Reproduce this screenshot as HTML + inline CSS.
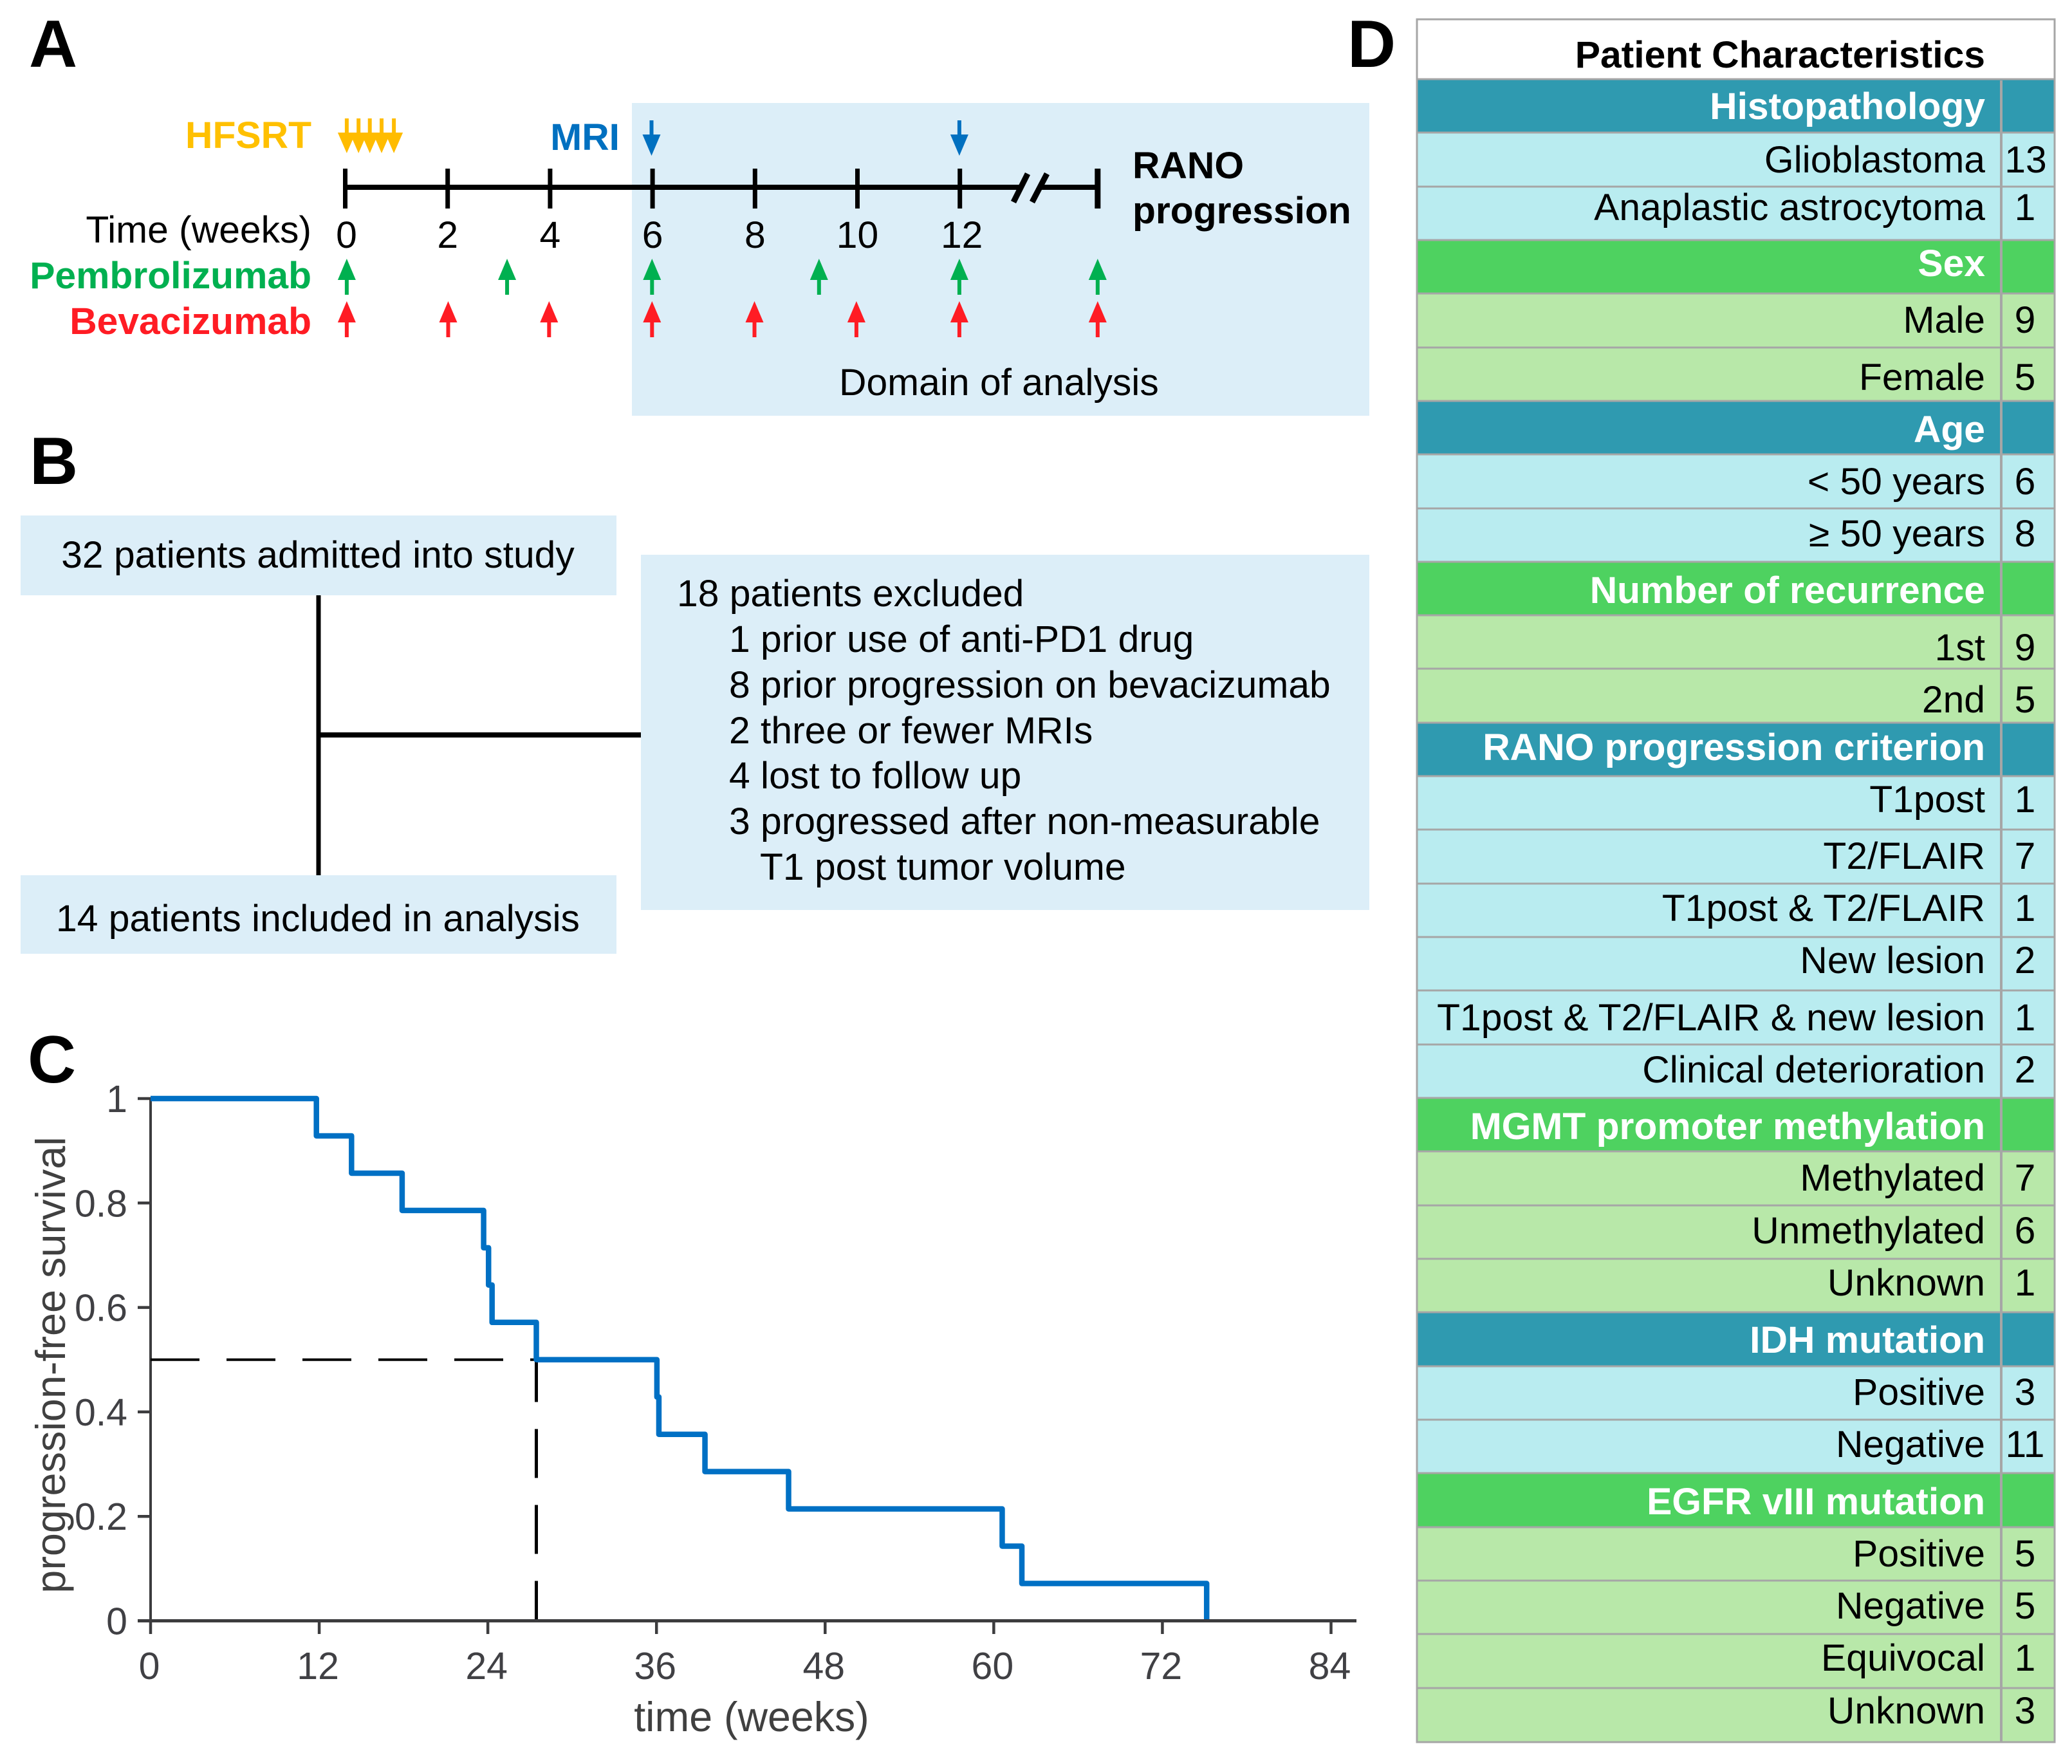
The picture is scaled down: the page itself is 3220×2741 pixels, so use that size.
<!DOCTYPE html>
<html lang="en">
<head>
<meta charset="utf-8">
<title>Patient timeline, flow, survival and characteristics</title>
<style>
html,body{margin:0;padding:0;background:#fff;}
body{width:3220px;height:2741px;overflow:hidden;}
svg{display:block;}
text{font-family:"Liberation Sans",Arial,sans-serif;font-size:58.8px;fill:#000;}
.b{font-weight:700;}
.pl{font-weight:700;font-size:104px;}
.e{text-anchor:end;}
.m{text-anchor:middle;}
.rl{text-anchor:end;}
.h{font-weight:700;fill:#fff;text-anchor:end;}
.v{text-anchor:middle;}
.hr{fill:#2f9ab0;stroke:#a6a6a6;stroke-width:3;}
.lc{fill:#b9ecf0;stroke:#a6a6a6;stroke-width:3;}
.gr{fill:#4ed260;stroke:#a6a6a6;stroke-width:3;}
.lg{fill:#b8e8a9;stroke:#a6a6a6;stroke-width:3;}
</style>
</head>
<body>
<svg id="fig" xmlns="http://www.w3.org/2000/svg" width="3220" height="2741" viewBox="0 0 3220 2741">
  <rect x="0" y="0" width="3220" height="2741" fill="#fff"/>

  <!-- Panel A -->
  <g id="panelA">
    <rect x="982" y="160" width="1146" height="486" fill="#dceef8"/>
    <text class="pl" x="45" y="104">A</text>
    <text class="b e" x="484" y="230" style="fill:#ffc000">HFSRT</text>
    <text class="b e" x="963" y="233" style="fill:#0070c0">MRI</text>
    <text class="e" x="484" y="377">Time (weeks)</text>
    <text class="b e" x="484" y="448" style="fill:#00b050">Pembrolizumab</text>
    <text class="b e" x="484" y="519" style="fill:#ff1c24">Bevacizumab</text>
    <text class="b" x="1760" y="277">RANO</text>
    <text class="b" x="1760" y="347">progression</text>
    <text x="1304" y="614">Domain of analysis</text>
  </g>

  <!-- Panel B -->
  <g>
    <text class="pl" x="46" y="752">B</text>
    <line x1="495" y1="920" x2="495" y2="1365" stroke="#000" stroke-width="7"/>
    <line x1="495" y1="1142" x2="1000" y2="1142" stroke="#000" stroke-width="8"/>
    <rect x="32" y="801" width="926" height="124" fill="#dceef8"/>
    <text class="m" x="494" y="882">32 patients admitted into study</text>
    <rect x="32" y="1360" width="926" height="122" fill="#dceef8"/>
    <text class="m" x="494" y="1447">14 patients included in analysis</text>
    <rect x="996" y="862" width="1132" height="552" fill="#dceef8"/>
    <text x="1052" y="942">18 patients excluded</text>
    <text x="1133" y="1013">1 prior use of anti-PD1 drug</text>
    <text x="1133" y="1084">8 prior progression on bevacizumab</text>
    <text x="1133" y="1155">2 three or fewer MRIs</text>
    <text x="1133" y="1225">4 lost to follow up</text>
    <text x="1133" y="1296">3 progressed after non-measurable</text>
    <text x="1181" y="1367">T1 post tumor volume</text>
  </g>

  <!-- Panel C -->
  <g id="panelC">
    <text class="pl" x="43" y="1682">C</text>
    <text class="m" x="1168" y="2690" style="font-size:64.5px;fill:#404040">time (weeks)</text>
    <text class="m" transform="translate(101 2121) rotate(-90)" style="font-size:64.8px;fill:#404040">progression-free survival</text>
  </g>

  <!-- Panel D -->
  <g>
    <text class="pl" x="2094" y="104">D</text>
    <rect x="2202" y="30" width="991" height="93" fill="#fff" stroke="#a6a6a6" stroke-width="3"/>
    <text class="b e" x="3085" y="105">Patient Characteristics</text>

    <rect class="hr" x="2202" y="123" width="991" height="83"/>
    <text class="h" x="3085" y="185">Histopathology</text>
    <rect class="lc" x="2202" y="206" width="991" height="84"/>
    <text class="rl" x="3085" y="268">Glioblastoma</text>
    <text class="v" x="3148" y="268">13</text>
    <rect class="lc" x="2202" y="290" width="991" height="83"/>
    <text class="rl" x="3085" y="342">Anaplastic astrocytoma</text>
    <text class="v" x="3147" y="342">1</text>

    <rect class="gr" x="2202" y="373" width="991" height="83"/>
    <text class="h" x="3085" y="429">Sex</text>
    <rect class="lg" x="2202" y="456" width="991" height="84"/>
    <text class="rl" x="3085" y="517">Male</text>
    <text class="v" x="3147" y="517">9</text>
    <rect class="lg" x="2202" y="540" width="991" height="83"/>
    <text class="rl" x="3085" y="606">Female</text>
    <text class="v" x="3147" y="606">5</text>

    <rect class="hr" x="2202" y="623" width="991" height="83"/>
    <text class="h" x="3085" y="687">Age</text>
    <rect class="lc" x="2202" y="706" width="991" height="84"/>
    <text class="rl" x="3085" y="768">&lt; 50 years</text>
    <text class="v" x="3147" y="768">6</text>
    <rect class="lc" x="2202" y="790" width="991" height="83"/>
    <text class="rl" x="3085" y="849">≥ 50 years</text>
    <text class="v" x="3147" y="849">8</text>

    <rect class="gr" x="2202" y="873" width="991" height="83"/>
    <text class="h" x="3085" y="937">Number of recurrence</text>
    <rect class="lg" x="2202" y="956" width="991" height="83"/>
    <text class="rl" x="3085" y="1026">1st</text>
    <text class="v" x="3147" y="1026">9</text>
    <rect class="lg" x="2202" y="1039" width="991" height="84"/>
    <text class="rl" x="3085" y="1107">2nd</text>
    <text class="v" x="3147" y="1107">5</text>

    <rect class="hr" x="2202" y="1123" width="991" height="83"/>
    <text class="h" x="3085" y="1181">RANO progression criterion</text>
    <rect class="lc" x="2202" y="1206" width="991" height="83"/>
    <text class="rl" x="3085" y="1262">T1post</text>
    <text class="v" x="3147" y="1262">1</text>
    <rect class="lc" x="2202" y="1289" width="991" height="84"/>
    <text class="rl" x="3085" y="1350">T2/FLAIR</text>
    <text class="v" x="3147" y="1350">7</text>
    <rect class="lc" x="2202" y="1373" width="991" height="83"/>
    <text class="rl" x="3085" y="1431">T1post &amp; T2/FLAIR</text>
    <text class="v" x="3147" y="1431">1</text>
    <rect class="lc" x="2202" y="1456" width="991" height="83"/>
    <text class="rl" x="3085" y="1512">New lesion</text>
    <text class="v" x="3147" y="1512">2</text>
    <rect class="lc" x="2202" y="1539" width="991" height="84"/>
    <text class="rl" x="3085" y="1601">T1post &amp; T2/FLAIR &amp; new lesion</text>
    <text class="v" x="3147" y="1601">1</text>
    <rect class="lc" x="2202" y="1623" width="991" height="83"/>
    <text class="rl" x="3085" y="1682">Clinical deterioration</text>
    <text class="v" x="3147" y="1682">2</text>

    <rect class="gr" x="2202" y="1706" width="991" height="83"/>
    <text class="h" x="3085" y="1770">MGMT promoter methylation</text>
    <rect class="lg" x="2202" y="1789" width="991" height="84"/>
    <text class="rl" x="3085" y="1850">Methylated</text>
    <text class="v" x="3147" y="1850">7</text>
    <rect class="lg" x="2202" y="1873" width="991" height="83"/>
    <text class="rl" x="3085" y="1932">Unmethylated</text>
    <text class="v" x="3147" y="1932">6</text>
    <rect class="lg" x="2202" y="1956" width="991" height="83"/>
    <text class="rl" x="3085" y="2013">Unknown</text>
    <text class="v" x="3147" y="2013">1</text>

    <rect class="hr" x="2202" y="2039" width="991" height="84"/>
    <text class="h" x="3085" y="2102">IDH mutation</text>
    <rect class="lc" x="2202" y="2123" width="991" height="83"/>
    <text class="rl" x="3085" y="2183">Positive</text>
    <text class="v" x="3147" y="2183">3</text>
    <rect class="lc" x="2202" y="2206" width="991" height="83"/>
    <text class="rl" x="3085" y="2264">Negative</text>
    <text class="v" x="3147" y="2264">11</text>

    <rect class="gr" x="2202" y="2289" width="991" height="84"/>
    <text class="h" x="3085" y="2353">EGFR vIII mutation</text>
    <rect class="lg" x="2202" y="2373" width="991" height="83"/>
    <text class="rl" x="3085" y="2434">Positive</text>
    <text class="v" x="3147" y="2434">5</text>
    <rect class="lg" x="2202" y="2456" width="991" height="83"/>
    <text class="rl" x="3085" y="2515">Negative</text>
    <text class="v" x="3147" y="2515">5</text>
    <rect class="lg" x="2202" y="2539" width="991" height="84"/>
    <text class="rl" x="3085" y="2596">Equivocal</text>
    <text class="v" x="3147" y="2596">1</text>
    <rect class="lg" x="2202" y="2623" width="991" height="84"/>
    <text class="rl" x="3085" y="2678">Unknown</text>
    <text class="v" x="3147" y="2678">3</text>

    <line x1="3110" y1="125" x2="3110" y2="2707" stroke="#a6a6a6" stroke-width="4"/>
  </g>
</svg>

<script>
/* Kaplan-Meier data: week of each event and survival after it */
var kmEventWeeks = [11.8, 14.3, 17.9, 23.7, 24.05, 24.3, 27.45, 36.03, 36.17, 39.45, 45.4, 60.6, 62, 75.15];
var kmSurvivalAfter = [0.9286, 0.8571, 0.7857, 0.7143, 0.6429, 0.5714, 0.5, 0.4286, 0.3571, 0.2857, 0.2143, 0.1429, 0.0714, 0];
var medianWeek = [27.45];
var medianSurvival = [0.5];
var xTickValues = [0, 12, 24, 36, 48, 60, 72, 84];
var yTickValues = [0, 0.2, 0.4, 0.6, 0.8, 1];

/* Treatment timeline data, in weeks (the last position is the progression tick) */
var timelineTickWeeks = [0, 2, 4, 6, 8, 10, 12];
var timelineTickLabels = ["0", "2", "4", "6", "8", "10", "12"];
var progressionWeek = [14.69];
var hfsrtWeeks = [0.03, 0.26, 0.48, 0.71, 0.95];
var mriWeeks = [5.98, 11.99];
var pembrolizumabWeeks = [0.03, 3.16, 5.99, 9.25, 11.99, 14.69];
var bevacizumabWeeks = [0.03, 2.01, 3.98, 5.99, 7.99, 9.98, 11.99, 14.69];

var NS = "http://www.w3.org/2000/svg";
var panelA = document.getElementById("panelA");
var panelC = document.getElementById("panelC");

function mk(parent, tag, attrs) {
  var el = document.createElementNS(NS, tag);
  for (var k in attrs) { el.setAttribute(k, attrs[k]); }
  parent.appendChild(el);
  return el;
}

/* Axis functions */
function chartX(week) { return 234 + (week / 84) * 1834.5; }
function chartY(s) { return 2518.5 - s * 811.5; }
function timeX(week) { return 536.5 + week * 79.6; }

/* ---------- Panel A ---------- */
function arrow(parent, week, tipY, baseY, tailY, color, name) {
  var x = timeX(week);
  var g = mk(parent, "g", {});
  
  
  mk(g, "line", { x1: x, y1: tailY, x2: x, y2: baseY, stroke: color, "stroke-width": 6 });
  mk(g, "polygon", { points: (x - 14) + "," + baseY + " " + (x + 14) + "," + baseY + " " + x + "," + tipY, fill: color });
}

var timelineAxis = mk(panelA, "path", {
  d: "M" + (timeX(0) - 3) + " 291H1585M1615 291H" + timeX(progressionWeek[0]),
  stroke: "#000", "stroke-width": 8, fill: "none"
});



timelineTickWeeks.forEach(function (w, i) {
  var tick = mk(panelA, "line", { x1: timeX(w), y1: 262, x2: timeX(w), y2: 324, stroke: "#000", "stroke-width": 7 });
  
  
  var label = mk(panelA, "text", { x: timeX(w) + (timelineTickLabels[i] === "12" ? 3 : (timelineTickLabels[i] === "0" ? 2 : 0)), y: 385, "text-anchor": "middle" });
  
  
  label.textContent = timelineTickLabels[i];
});

var endTick = mk(panelA, "line", { x1: timeX(progressionWeek[0]), y1: 262, x2: timeX(progressionWeek[0]), y2: 324, stroke: "#000", "stroke-width": 9 });



var slashOne = mk(panelA, "line", { x1: 1575, y1: 314, x2: 1597, y2: 270, stroke: "#000", "stroke-width": 9 });


var slashTwo = mk(panelA, "line", { x1: 1604, y1: 314, x2: 1627, y2: 270, stroke: "#000", "stroke-width": 9 });



hfsrtWeeks.forEach(function (w) { arrow(panelA, w, 238, 206, 184, "#ffbc00", "hfsrt-arrow"); });
mriWeeks.forEach(function (w) { arrow(panelA, w, 242, 209, 187, "#0070c0", "mri-arrow"); });
pembrolizumabWeeks.forEach(function (w) { arrow(panelA, w, 402, 435, 458, "#00b050", "pembrolizumab-arrow"); });
bevacizumabWeeks.forEach(function (w) { arrow(panelA, w, 468, 501, 524, "#ff1c24", "bevacizumab-arrow"); });

/* ---------- Panel C ---------- */
var axisColor = "#3c3c3e";

yTickValues.forEach(function (v) {
  var t = mk(panelC, "line", { x1: 214, y1: chartY(v), x2: 234, y2: chartY(v), stroke: axisColor, "stroke-width": 4.5 });
  
  
  var l = mk(panelC, "text", { x: 198, y: chartY(v) + 21, "text-anchor": "end", style: "font-size:59px;fill:#404044" });
  
  
  l.textContent = String(v);
});

xTickValues.forEach(function (v) {
  var t = mk(panelC, "line", { x1: chartX(v), y1: 2518, x2: chartX(v), y2: 2539, stroke: axisColor, "stroke-width": 4.5 });
  
  
  var l = mk(panelC, "text", { x: chartX(v) - 2, y: 2609, "text-anchor": "middle", style: "font-size:59px;fill:#404044" });
  
  
  l.textContent = String(v);
});

var yAxisLine = mk(panelC, "line", { x1: 234, y1: chartY(1), x2: 234, y2: chartY(0), stroke: axisColor, "stroke-width": 4 });



var medianH = mk(panelC, "line", {
  x1: chartX(0), y1: chartY(medianSurvival[0]), x2: chartX(medianWeek[0]), y2: chartY(medianSurvival[0]),
  stroke: "#000", "stroke-width": 4, "stroke-dasharray": "76 42"
});



var medianV = mk(panelC, "line", {
  x1: chartX(medianWeek[0]), y1: chartY(0), x2: chartX(medianWeek[0]), y2: chartY(medianSurvival[0]),
  stroke: "#000", "stroke-width": 5, "stroke-dasharray": "76 42", "stroke-dashoffset": 14
});



var kmPath = "M" + chartX(0) + " " + chartY(1);
kmEventWeeks.forEach(function (w, i) {
  kmPath += "H" + chartX(w) + "V" + chartY(kmSurvivalAfter[i]);
});
var kmLine = mk(panelC, "path", { d: kmPath, fill: "none", stroke: "#0070c4", "stroke-width": 8.5, "stroke-linejoin": "round" });



var xAxisLine = mk(panelC, "line", { x1: 214, y1: chartY(0), x2: 2108, y2: chartY(0), stroke: axisColor, "stroke-width": 5 });


</script>
</body>
</html>
